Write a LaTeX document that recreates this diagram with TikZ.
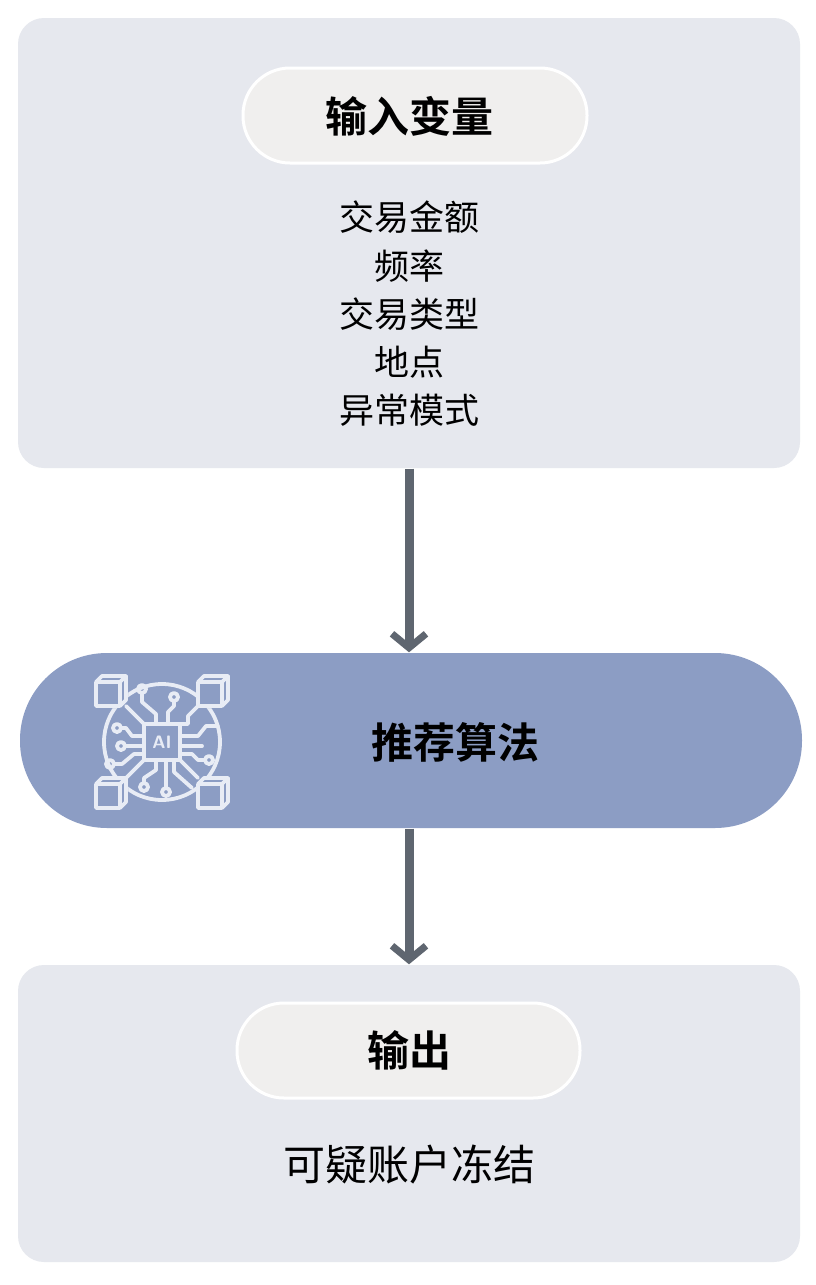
\documentclass[tikz,border=0pt]{standalone}
\usepackage{fontspec}
\newfontfamily\cjk{Noto Sans CJK SC}
\newfontfamily\cjkb{Noto Sans CJK SC Bold}
\usetikzlibrary{arrows.meta}
\definecolor{panel}{HTML}{E6E8EE}
\definecolor{pill}{HTML}{F0EFEE}
\definecolor{algo}{HTML}{8C9DC4}
\definecolor{arr}{HTML}{5F6670}
\definecolor{ico}{HTML}{E8ECF5}
\begin{document}
\begin{tikzpicture}[x=1pt,y=-1pt,
 panelbox/.style={draw=none,fill=panel,rounded corners=26pt},
 pillbox/.style={draw=white,line width=3pt,fill=pill,rounded corners=47pt},
 item/.style={font=\cjk\fontsize{35}{42}\selectfont,text=black},
 title/.style={font=\cjkb\fontsize{42}{50}\selectfont,text=black},
 flow/.style={draw=arr,line width=9pt,-{Straight Barb[length=14pt,width=34pt,line width=7pt]}},
 ic/.style={draw=ico,line width=3.8pt,line cap=round,line join=round}]
\useasboundingbox (0,0) rectangle (816,1285);
\fill[white] (0,0) rectangle (816,1285);
% top panel
\fill[panel,rounded corners=26pt] (18,18) rectangle (800,468);
\node[inner sep=0] (top) at (409,468) {};
\draw[pillbox] (243,68) rectangle (587,163);
\node[title] (in) at (409,116) {输入变量};
\node[item] (v1) at (409,217) {交易金额};
\node[item] (v2) at (409,266) {频率};
\node[item] (v3) at (409,314) {交易类型};
\node[item] (v4) at (409,362) {地点};
\node[item] (v5) at (409,410) {异常模式};
% algorithm pill
\fill[algo,rounded corners=87pt] (20,653) rectangle (802,828);
\node[inner sep=0] (algtop) at (409,653) {};
\node[inner sep=0] (algbot) at (409,828) {};
\node[title] (alg) at (455,742) {推荐算法};
% bottom panel
\fill[panel,rounded corners=26pt] (18,965) rectangle (800,1262);
\node[inner sep=0] (bot) at (409,965) {};
\draw[pillbox] (237,1003) rectangle (580,1098);
\node[title] (out) at (409,1050) {输出};
\node[item,font=\cjk\fontsize{42}{50}\selectfont] (res) at (409,1165) {可疑账户冻结};
% arrows
\draw[flow] (top) -- (algtop);
\draw[flow] (algbot) -- (bot);
% icon
\begin{scope}[shift={(162,742)}]
\draw[ic] (0,0) circle (58);
\fill[algo] (-68,-68) rectangle (-34,-34) (34,-68) rectangle (68,-34) (-68,34) rectangle (-34,68) (34,34) rectangle (68,68);
\foreach \sx/\sy in {-1/-1,1/-1,-1/1,1/1}{
 \begin{scope}[shift={(\sx*51,\sy*51)}]
 \draw[ic] (-15,-9) rectangle (9,15) (-15,-9) -- (-9,-15) -- (15,-15) -- (9,-9) (15,-15) -- (15,9) -- (9,15);
 \end{scope}}
\draw[ic,fill=algo] (-18,-18) rectangle (18,18);
\node[text=ico,font=\sffamily\bfseries\fontsize{18}{18}\selectfont] at (0,0) {AI};
\draw[ic] (-6,-18) -- (-6,-28) -- (-20,-40) -- (-20,-48);
\draw[ic] (-20,-53) circle (4);
\draw[ic] (6,-18) -- (6,-30) -- (12,-36) -- (12,-40);
\draw[ic] (12,-45) circle (4);
\draw[ic] (-18,-6) -- (-30,-6) -- (-36,-14) -- (-40,-14);
\draw[ic] (-45,-14) circle (4);
\draw[ic] (-18,4) -- (-36,4);
\draw[ic] (-41,4) circle (4);
\draw[ic] (-18,12) -- (-28,12) -- (-40,22) -- (-47,22);
\draw[ic] (-52,22) circle (4);
\draw[ic] (18,-6) -- (36,-6) -- (44,-16) -- (56,-16);
\draw[ic] (18,4) -- (40,4);
\draw[ic] (18,12) -- (30,12) -- (36,18) -- (42,18);
\draw[ic] (47,18) circle (4);
\draw[ic] (-6,18) -- (-6,28) -- (-18,36) -- (-18,40);
\draw[ic] (-18,45) circle (4);
\draw[ic] (4,18) -- (4,45);
\draw[ic] (4,50) circle (4);
\draw[ic] (12,18) -- (12,30) -- (30,46);
\draw[ic] (-36,-36) -- (-30,-30) -- (-18,-18);
\draw[ic] (36,-36) -- (26,-26) -- (26,-18) -- (18,-18);
\draw[ic] (-36,36) -- (-26,26) -- (-18,18);
\draw[ic] (36,36) -- (30,30) -- (18,18);
\end{scope}
\end{tikzpicture}
\end{document}
